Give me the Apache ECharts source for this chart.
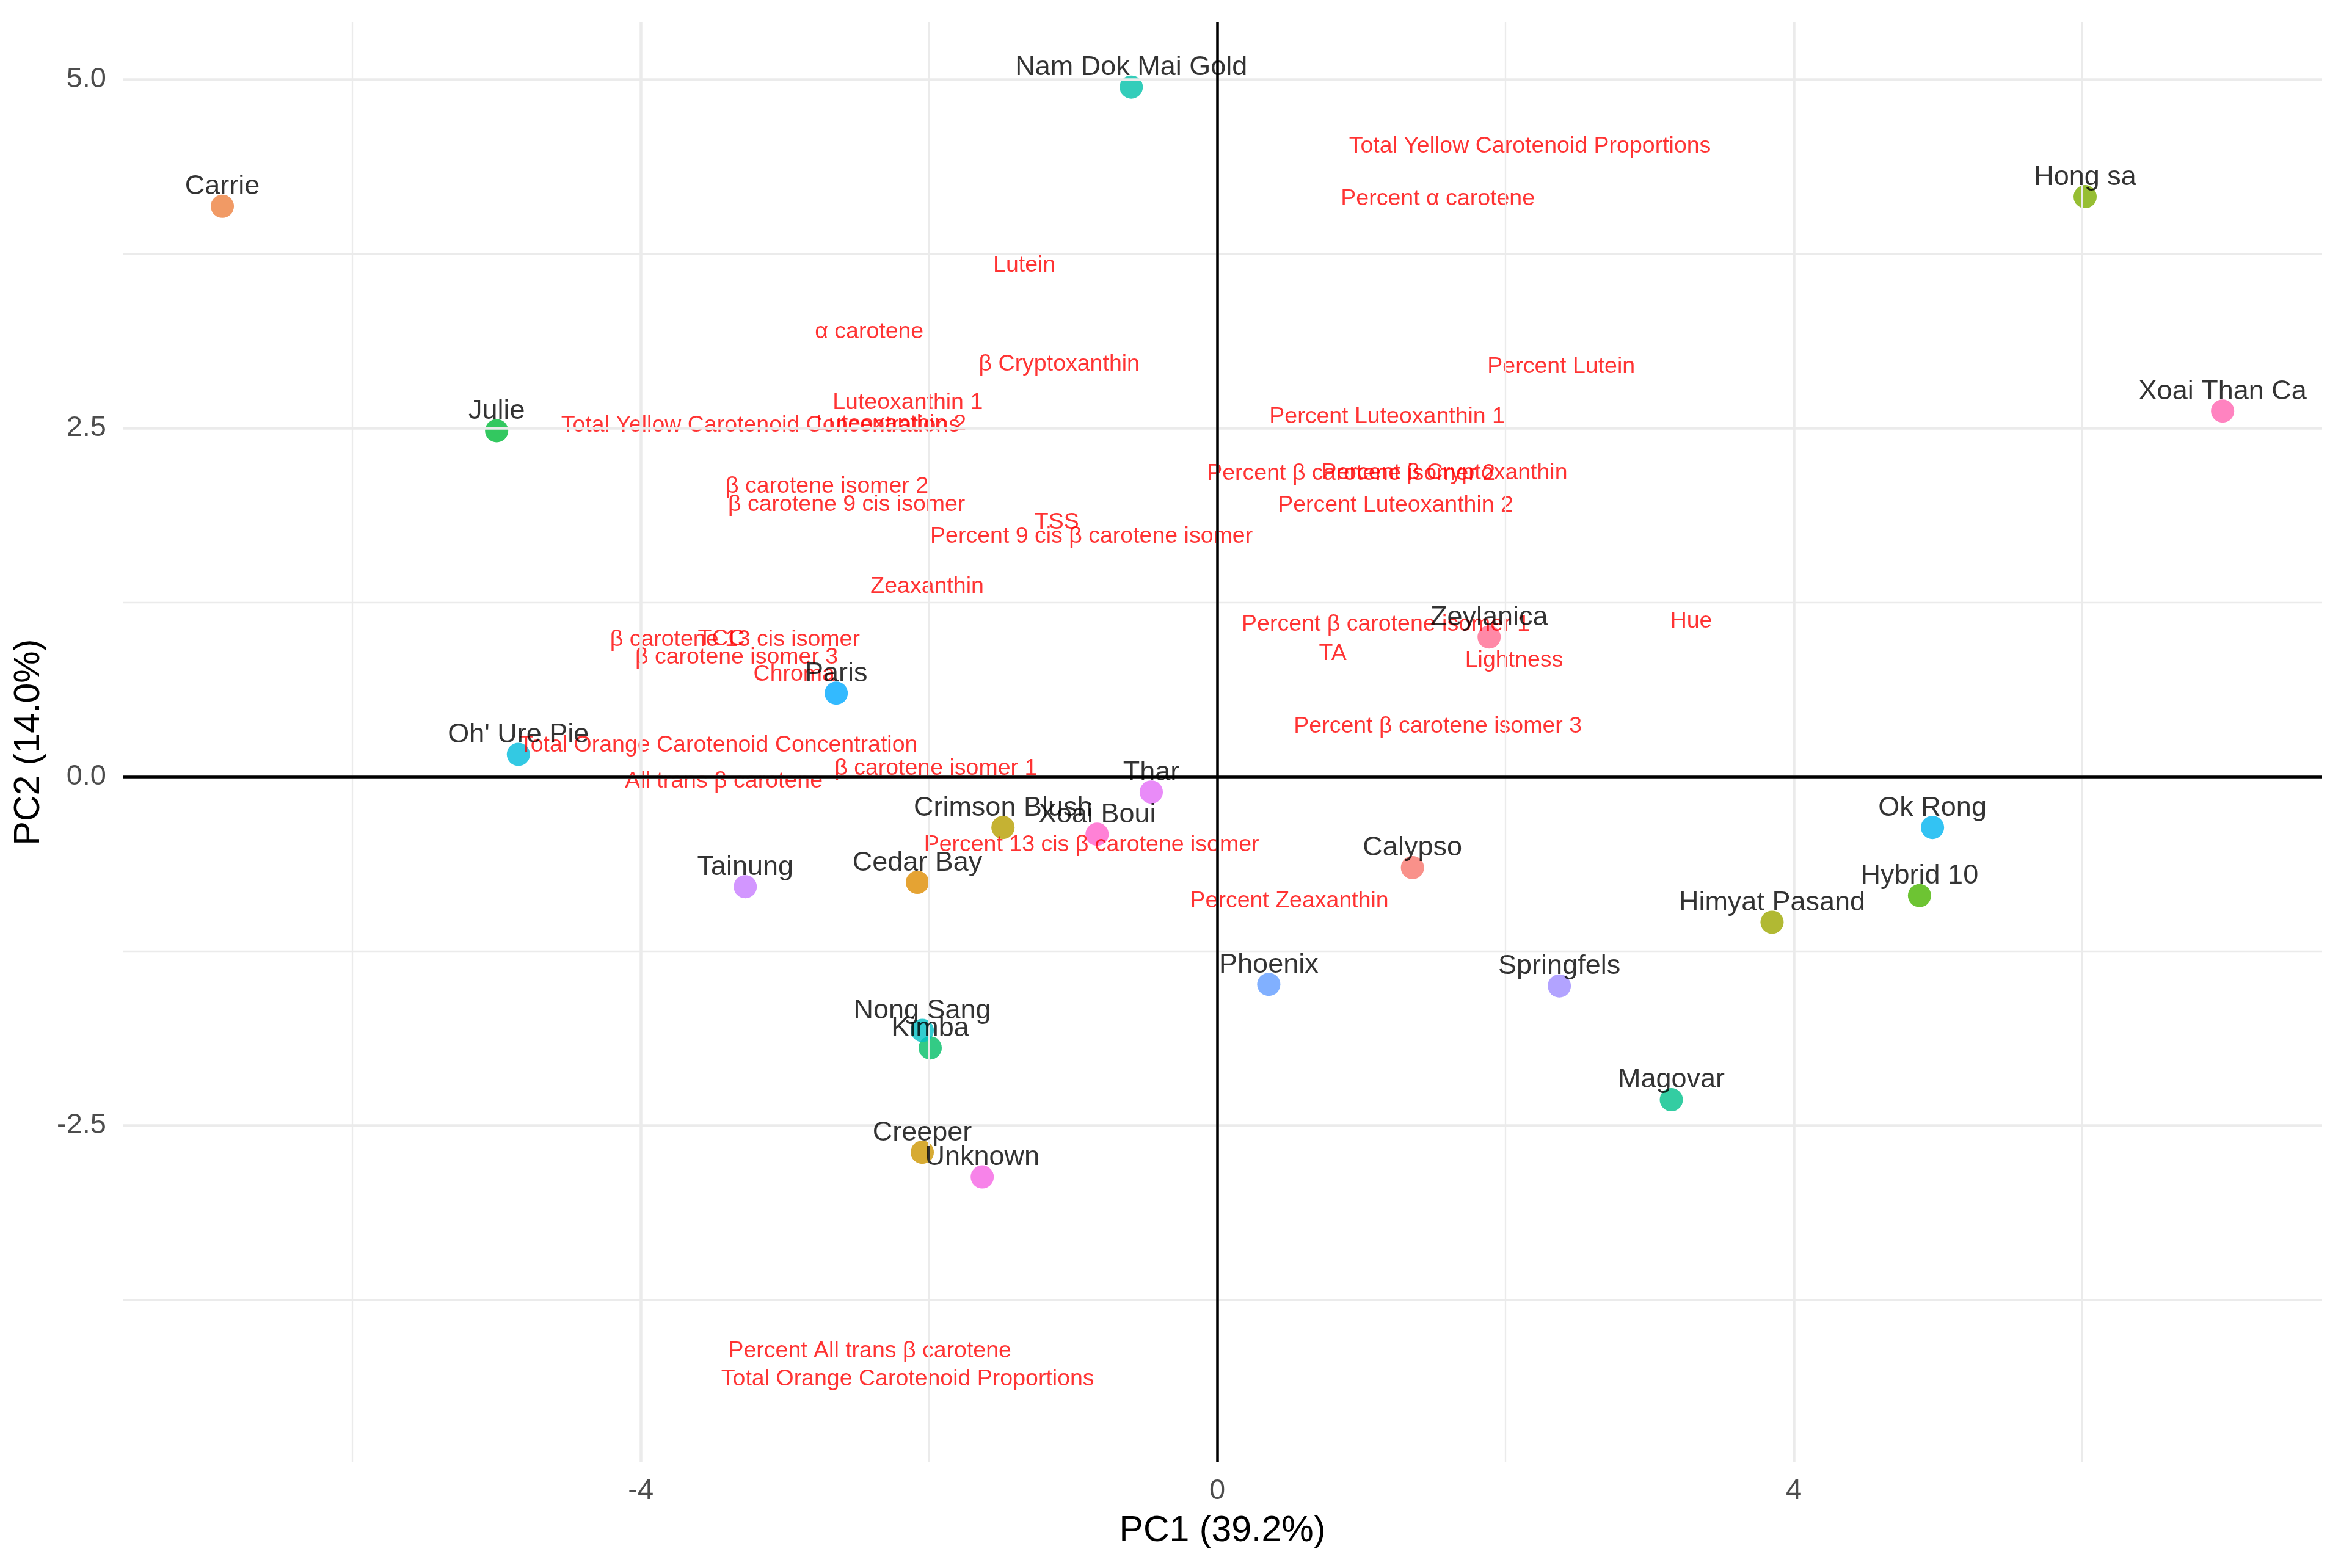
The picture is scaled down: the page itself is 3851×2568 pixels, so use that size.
<!DOCTYPE html>
<html>
<head>
<meta charset="utf-8">
<script src="https://cdn.jsdelivr.net/npm/echarts@6/dist/echarts.min.js"></script>
<style>
html,body{margin:0;padding:0;background:#fff;}
#chart{width:3851px;height:2568px;}
</style>
</head>
<body>
<div id="chart"></div>
<script>
// ---- Data ----
const cultivars = ["Calypso","Carrie","Cedar Bay","Creeper","Crimson Blush","Himyat Pasand","Hong sa","Hybrid 10","Julie","Kimba","Magovar","Nam Dok Mai Gold","Nong Sang","Oh' Ure Pie","Ok Rong","Paris","Phoenix","Springfels","Tainung","Thar","Unknown","Xoai Boui","Xoai Than Ca","Zeylanica"];
const pc1 = [1.354, -6.903, -2.081, -2.047, -1.487, 3.849, 6.021, 4.872, -5.000, -1.992, 3.150, -0.597, -2.047, -4.849, 4.962, -2.644, 0.357, 2.373, -3.275, -0.458, -1.631, -0.834, 6.975, 1.886];
const pc2 = [-0.651, 4.092, -0.757, -2.693, -0.363, -1.043, 4.161, -0.852, 2.482, -1.944, -2.316, 4.947, -1.819, 0.161, -0.363, 0.600, -1.489, -1.500, -0.788, -0.109, -2.870, -0.412, 2.623, 1.003];

const variables = ["Total Yellow Carotenoid Proportions","Percent α carotene","Lutein","α carotene","β Cryptoxanthin","Percent Lutein","Luteoxanthin 1","Percent Luteoxanthin 1","Luteoxanthin 2","Total Yellow Carotenoid Concentrations","Percent β carotene isomer 2","Percent β Cryptoxanthin","Percent Luteoxanthin 2","β carotene isomer 2","β carotene 9 cis isomer","TSS","Percent 9 cis β carotene isomer","Zeaxanthin","Percent β carotene isomer 1","Hue","TA","Lightness","β carotene 13 cis isomer","TCC","β carotene isomer 3","Chroma","Percent β carotene isomer 3","Total Orange Carotenoid Concentration","β carotene isomer 1","All trans β carotene","Percent 13 cis β carotene isomer","Percent Zeaxanthin","Percent All trans β carotene","Total Orange Carotenoid Proportions"];
const load1 = [2.169, 1.530, -1.339, -2.415, -1.097, 2.386, -2.148, 1.178, -2.263, -3.169, 0.928, 1.576, 1.237, -2.708, -2.572, -1.114, -0.873, -2.013, 1.169, 3.288, 0.801, 2.059, -3.347, -3.441, -3.335, -2.936, 1.530, -3.462, -1.953, -3.424, -0.873, 0.500, -2.411, -2.148];
const load2 = [4.523, 4.146, 3.669, 3.192, 2.960, 2.942, 2.684, 2.583, 2.531, 2.522, 2.176, 2.180, 1.948, 2.084, 1.953, 1.826, 1.725, 1.366, 1.095, 1.116, 0.884, 0.836, 0.985, 0.989, 0.858, 0.736, 0.363, 0.228, 0.061, -0.031, -0.486, -0.893, -4.120, -4.321];

const xTicks = [-4, 0, 4];
const yTicks = [-2.5, 0, 2.5, 5];
const xMinor = [-6, -2, 2, 6];
const yMinor = [-3.75, -1.25, 1.25, 3.75];
const refLines = [0];
const xLimits = [-7.594, 7.665];
const yLimits = [-4.917, 5.414];

// ---- ggplot-like hue palette (HCL, l=65, c=100) ----
function hcl(h, c, l) {
  const hr = h * Math.PI / 180;
  const U = c * Math.cos(hr), V = c * Math.sin(hr);
  const WX = 95.047, WY = 100.0, WZ = 108.883;
  const Y = l > 7.999592 ? WY * Math.pow((l + 16) / 116, 3) : WY * l / 903.3;
  const t = WX + WY + WZ, x = WX / t, y = WY / t;
  const uN = 2 * x / (6 * y - x + 1.5), vN = 4.5 * y / (6 * y - x + 1.5);
  const u = U / (13 * l) + uN, v = V / (13 * l) + vN;
  const X = 9.0 * Y * u / (4 * v);
  const Z = -X / 3 - 5 * Y + 3 * Y / v;
  const lin = [
    (3.240479 * X - 1.537150 * Y - 0.498535 * Z) / WY,
    (-0.969256 * X + 1.875992 * Y + 0.041556 * Z) / WY,
    (0.055648 * X - 0.204043 * Y + 1.057311 * Z) / WY
  ];
  const out = lin.map(function (cv) {
    let g = cv <= 0.0031308 ? 12.92 * cv : 1.055 * Math.pow(cv, 1 / 2.4) - 0.055;
    g = Math.max(0, Math.min(1, g));
    return Math.round(g * 255);
  });
  return 'rgb(' + out.join(',') + ')';
}
const n = cultivars.length;
const palette = cultivars.map(function (_, i) { return hcl(15 + (345 / (n - 1)) * i, 100, 65); });

const FONT = '"Liberation Sans", Arial, sans-serif';

const gridLineData = []
  .concat(xMinor.map(function (v) { return { xAxis: v, lineStyle: { color: '#EBEBEB', width: 2.3, type: 'solid' } }; }))
  .concat(yMinor.map(function (v) { return { yAxis: v, lineStyle: { color: '#EBEBEB', width: 2.3, type: 'solid' } }; }))
  .concat(xTicks.map(function (v) { return { xAxis: v, lineStyle: { color: '#EBEBEB', width: 4.5, type: 'solid' } }; }))
  .concat(yTicks.map(function (v) { return { yAxis: v, lineStyle: { color: '#EBEBEB', width: 4.5, type: 'solid' } }; }));

const zeroLineData = []
  .concat(refLines.map(function (v) { return { yAxis: v }; }))
  .concat(refLines.map(function (v) { return { xAxis: v }; }));

const pointData = cultivars.map(function (name, i) {
  return { name: name, value: [pc1[i], pc2[i]], itemStyle: { color: palette[i] } };
});
const varData = variables.map(function (name, i) {
  return { name: name, value: [load1[i], load2[i]] };
});

const chart = echarts.init(document.getElementById('chart'), null, { renderer: 'canvas' });
chart.setOption({
  animation: false,
  backgroundColor: '#ffffff',
  grid: { left: 201, right: 49, top: 36, bottom: 173, containLabel: false, outerBoundsMode: 'none' },
  xAxis: {
    type: 'value', min: xLimits[0], max: xLimits[1],
    axisLine: { show: false }, axisTick: { show: false }, splitLine: { show: false },
    axisLabel: {
      customValues: xTicks, margin: 24, fontSize: 47, color: '#4D4D4D', fontFamily: FONT,
      formatter: function (v) { return String(Math.round(v)); }
    },
    name: 'PC1 (39.2%)', nameLocation: 'middle', nameGap: 83,
    nameTextStyle: { fontSize: 59, color: '#000000', fontFamily: FONT }
  },
  yAxis: {
    type: 'value', min: yLimits[0], max: yLimits[1],
    axisLine: { show: false }, axisTick: { show: false }, splitLine: { show: false },
    axisLabel: {
      customValues: yTicks, margin: 27, fontSize: 47, color: '#4D4D4D', fontFamily: FONT,
      formatter: function (v) { return Number(v).toFixed(1); }
    },
    name: 'PC2 (14.0%)', nameLocation: 'middle', nameGap: 124,
    nameTextStyle: { fontSize: 59, color: '#000000', fontFamily: FONT }
  },
  series: [
    {
      type: 'scatter', data: [], z: 1, silent: true,
      markLine: { silent: true, symbol: 'none', label: { show: false }, animation: false, data: gridLineData }
    },
    {
      type: 'scatter', data: [], z: 2, silent: true,
      markLine: { silent: true, symbol: 'none', label: { show: false }, animation: false,
        lineStyle: { color: '#000000', width: 4.5, type: 'solid' }, data: zeroLineData }
    },
    {
      type: 'scatter', z: 3, silent: true, symbol: 'circle', symbolSize: 38,
      data: pointData
    },
    {
      type: 'scatter', z: 4, silent: true, symbol: 'circle', symbolSize: 1,
      itemStyle: { color: 'rgba(0,0,0,0)' },
      label: { show: true, position: 'inside', formatter: '{b}', color: '#FF0000', fontSize: 37.5, fontFamily: FONT,
        textBorderWidth: 0, textShadowBlur: 0 },
      labelLayout: { hideOverlap: false },
      data: varData
    },
    {
      type: 'scatter', z: 5, silent: true, symbol: 'circle', symbolSize: 1,
      itemStyle: { color: 'rgba(0,0,0,0)' },
      label: { show: true, position: 'top', distance: 9, formatter: '{b}', color: '#000000', fontSize: 45, fontFamily: FONT,
        textBorderWidth: 0, textShadowBlur: 0 },
      labelLayout: { hideOverlap: false },
      data: pointData.map(function (d) { return { name: d.name, value: d.value }; })
    }
  ]
});
</script>
</body>
</html>
